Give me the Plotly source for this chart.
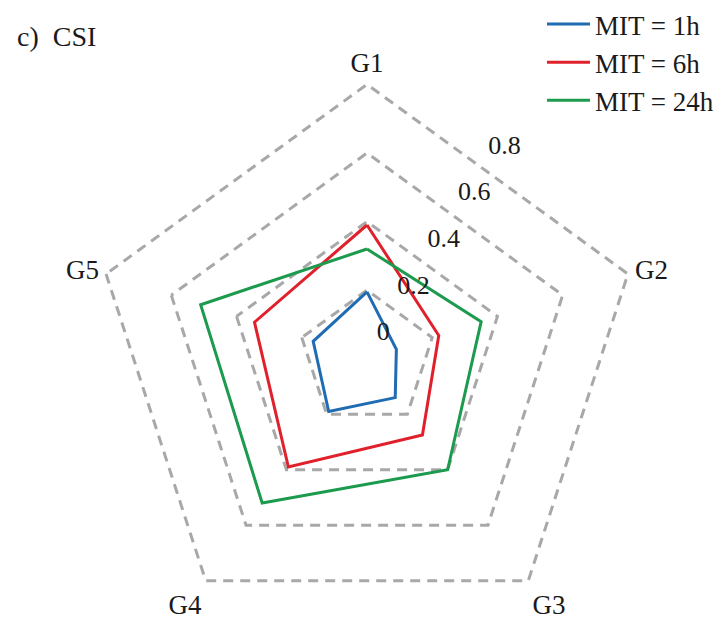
import plotly.graph_objects as go

# ---- data ----
categories = ['G1', 'G2', 'G3', 'G4', 'G5']
mit_1h = [0.195, 0.09, 0.14, 0.19, 0.165]
mit_6h = [0.39, 0.22, 0.275, 0.39, 0.345]
mit_24h = [0.32, 0.35, 0.40, 0.52, 0.51]
series_names = ['MIT = 1h', 'MIT = 6h', 'MIT = 24h']
radial_ticks = [0, 0.2, 0.4, 0.6, 0.8]
radial_ticktext = ['0', '0.2', '0.4', '0.6', '0.8']

colors = ['#1f6cb3', '#e0202b', '#1c9a4d']
FONT = 'Liberation Serif'
TXT = '#1a1a1a'

W, H = 719, 640
cx, cy = 367, 357
R = 283          # pixel radius of the polar area (range 0 .. 0.82)

dom_x = [(cx - R) / W, (cx + R) / W]
dom_y = [max(0.0, (H - cy - R) / H), (H - cy + R) / H]

fig = go.Figure()
for name, vals, col in zip(series_names, [mit_1h, mit_6h, mit_24h], colors):
    fig.add_trace(go.Scatterpolar(
        r=vals + [vals[0]],
        theta=categories + [categories[0]],
        mode='lines',
        name=name,
        line=dict(color=col, width=3),
        subplot='polar',
    ))

# radial tick labels, drawn on an overlaid polar scale
fig.add_trace(go.Scatterpolar(
    r=radial_ticks,
    theta=[57] * len(radial_ticks),
    mode='text',
    text=radial_ticktext,
    textposition='middle center',
    textfont=dict(size=26, family=FONT, color=TXT),
    showlegend=False,
    hoverinfo='skip',
    subplot='polar2',
))

fig.update_layout(
    width=W, height=H,
    margin=dict(l=0, r=0, t=0, b=0),
    paper_bgcolor='white',
    font=dict(family=FONT, size=27, color=TXT),
    showlegend=True,
    polar=dict(
        domain=dict(x=dom_x, y=dom_y),
        gridshape='linear',
        bgcolor='white',
        radialaxis=dict(
            range=[0, 0.82],
            tickvals=radial_ticks,
            showticklabels=False,
            showline=False,
            ticks='',
            gridcolor='#a8a8a8',
            gridwidth=2.5,
            griddash='10px,7px',
        ),
        angularaxis=dict(
            rotation=90,
            direction='clockwise',
            showgrid=False,
            showline=False,
            ticks='',
            tickfont=dict(size=27, family=FONT, color=TXT),
        ),
    ),
    polar2=dict(
        domain=dict(x=dom_x, y=dom_y),
        hole=0.106,
        bgcolor='rgba(0,0,0,0)',
        radialaxis=dict(range=[0, 0.9036], visible=False),
        angularaxis=dict(visible=False),
    ),
    legend=dict(
        x=1.0, xanchor='right',
        y=1 + 4 / H, yanchor='top',
        bgcolor='rgba(255,255,255,0)',
        font=dict(size=27, family=FONT, color=TXT),
        itemwidth=43,
        tracegroupgap=0,
    ),
    annotations=[dict(
        text='c)  CSI', x=15 / W, xanchor='left', y=1 - 33 / H, yanchor='middle',
        xref='paper', yref='paper', showarrow=False,
        font=dict(size=28, family=FONT, color=TXT),
    )],
)

post = ("document.body.style.margin='0';"
        "document.body.style.overflow='hidden';"
        "document.documentElement.style.overflow='hidden';")
fig.write_html('out.html', post_script=post, config={'displayModeBar': False})
